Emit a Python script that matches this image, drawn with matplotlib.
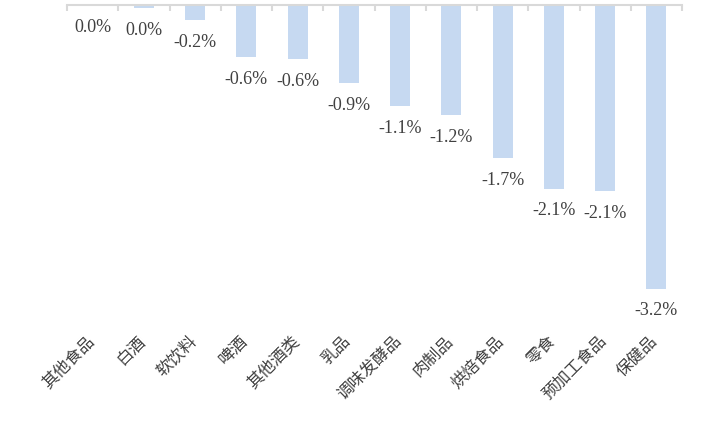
"""
食品类别涨跌幅柱状图
"""
import matplotlib.pyplot as plt
import matplotlib.transforms as mtransforms
from matplotlib.ticker import FixedLocator

# 数据
categories = ["其他食品", "白酒", "软饮料", "啤酒", "其他酒类", "乳品",
              "调味发酵品", "肉制品", "烘焙食品", "零食", "预加工食品", "保健品"]
values = [0.0, -0.03, -0.17, -0.58, -0.60, -0.87,
          -1.12, -1.22, -1.70, -2.04, -2.07, -3.15]
labels = ["0.0%", "0.0%", "-0.2%", "-0.6%", "-0.6%", "-0.9%",
          "-1.1%", "-1.2%", "-1.7%", "-2.1%", "-2.1%", "-3.2%"]

BAR_COLOR = "#C6D9F1"
TEXT_COLOR = "#404040"
AXIS_COLOR = "#D9D9D9"

fig = plt.figure(figsize=(7.23, 4.46), dpi=100)
ax = fig.add_axes([67 / 723, 1 - 320 / 446, 615 / 723, 315 / 446])

x = list(range(len(categories)))
ax.bar(x, values, width=0.39, color=BAR_COLOR, zorder=2)

# 数据标签
for xi, v, lab in zip(x, values, labels):
    ax.annotate(lab, (xi, v), xytext=(0, -10), textcoords="offset points",
                ha="center", va="top", fontsize=13,
                family="Liberation Serif", color=TEXT_COLOR)

ax.set_xlim(-0.5, len(categories) - 0.5)
ax.set_ylim(-3.5, 0)

# 坐标轴: 仅保留顶部(零线)
for side in ["left", "right", "bottom"]:
    ax.spines[side].set_visible(False)
ax.spines["top"].set_color(AXIS_COLOR)
ax.spines["top"].set_linewidth(1.5)
ax.set_yticks([])

# 顶部刻度线位于类别分界处
ax.xaxis.set_minor_locator(FixedLocator([i - 0.5 for i in range(len(categories) + 1)]))
ax.tick_params(axis="x", which="minor", top=True, bottom=False, direction="in",
               length=4, width=1.5, color=AXIS_COLOR)

# 类别标签在底部, 旋转 45 度
ax.set_xticks(x)
ax.set_xticklabels(categories, rotation=45, ha="right", rotation_mode="anchor",
                   fontsize=12, fontweight="light",
                   family=["Noto Sans CJK SC", "DejaVu Sans"], color=TEXT_COLOR)
ax.tick_params(axis="x", which="major", length=0, pad=9)
shift = mtransforms.ScaledTranslation(-0.07, 0, fig.dpi_scale_trans)
for t in ax.get_xticklabels():
    t.set_transform(t.get_transform() + shift)

fig.savefig("out.png", dpi=100)
